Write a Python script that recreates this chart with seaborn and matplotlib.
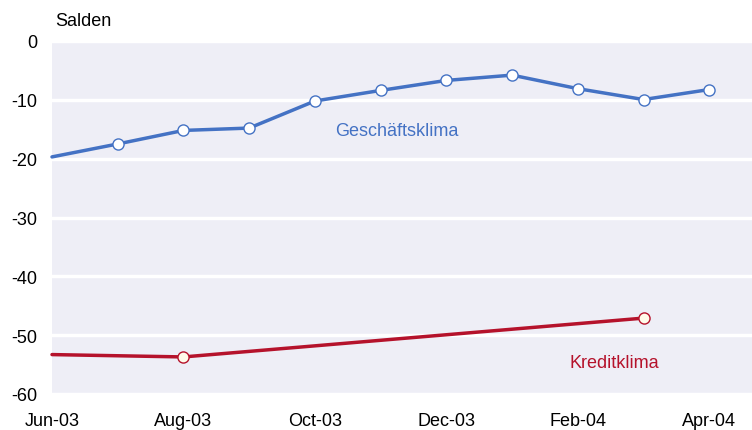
import matplotlib
matplotlib.use("Agg")
import matplotlib.pyplot as plt
import seaborn as sns
import pandas as pd
import numpy as np

months = ["Jun-03", "Jul-03", "Aug-03", "Sep-03", "Oct-03", "Nov-03",
          "Dec-03", "Jan-04", "Feb-04", "Mar-04", "Apr-04"]
geschaeft = [-19.7, -17.5, -15.2, -14.8, -10.2, -8.4, -6.7, -5.8, -8.1, -9.95, -8.25]
kredit_months = ["Jun-03", "Aug-03", "Mar-04"]
kredit = [-53.3, -53.7, -47.1]
xtick_labels = ["Jun-03", "Aug-03", "Oct-03", "Dec-03", "Feb-04", "Apr-04"]
yticks = [0, -10, -20, -30, -40, -50, -60]

sns.set_theme(style="darkgrid")
plt.rcParams['font.family'] = ['Liberation Sans', 'DejaVu Sans']

blue = "#4472C4"
red = "#B5122B"
fs = 13

idx = {m: i for i, m in enumerate(months)}
df_g = pd.DataFrame({"x": [idx[m] for m in months], "y": geschaeft})
df_k = pd.DataFrame({"x": [idx[m] for m in kredit_months], "y": kredit})

fig = plt.figure(figsize=(7.52, 4.31), dpi=100)
ax = fig.add_axes([52/752, 1-395/431, 1-52/752, (395-42)/431])
ax.set_facecolor("#EEEEF6")

sns.lineplot(data=df_g, x="x", y="y", ax=ax, color=blue, linewidth=2.5, clip_on=False)
sns.lineplot(data=df_k, x="x", y="y", ax=ax, color=red, linewidth=2.5, clip_on=False)
# markers (not on first point)
ax.plot(df_g["x"][1:], df_g["y"][1:], linestyle="none", marker="o", markersize=8,
        markerfacecolor="white", markeredgecolor=blue, markeredgewidth=1.0, zorder=5)
ax.plot(df_k["x"][1:], df_k["y"][1:], linestyle="none", marker="o", markersize=8,
        markerfacecolor="#FFFBEA", markeredgecolor=red, markeredgewidth=1.0, zorder=5)

ax.set_xlim(0, 10.65)
ax.set_ylim(-60, 0)
ax.set_yticks(yticks)
ax.set_yticklabels([str(v) for v in yticks], fontsize=fs, color="black")
ax.set_xticks([idx[m] for m in xtick_labels])
ax.set_xticklabels(xtick_labels, fontsize=fs, color="black")
ax.grid(axis="x", visible=False)
ax.grid(axis="y", color="white", linewidth=2.5)
ax.tick_params(axis="x", pad=7)
ax.tick_params(axis="y", pad=4.5)
ax.set_xlabel("")
ax.set_ylabel("")
for s in ax.spines.values():
    s.set_visible(False)

fig.text(55/752, 1-22/431, "Salden", fontsize=fs, ha="left", va="center", color="black")
ax.text(5.25, -15.2, "Geschäftsklima", fontsize=fs, color=blue, ha="center", va="center")
ax.text(8.55, -54.6, "Kreditklima", fontsize=fs, color=red, ha="center", va="center")

fig.savefig("out.png", dpi=100)
